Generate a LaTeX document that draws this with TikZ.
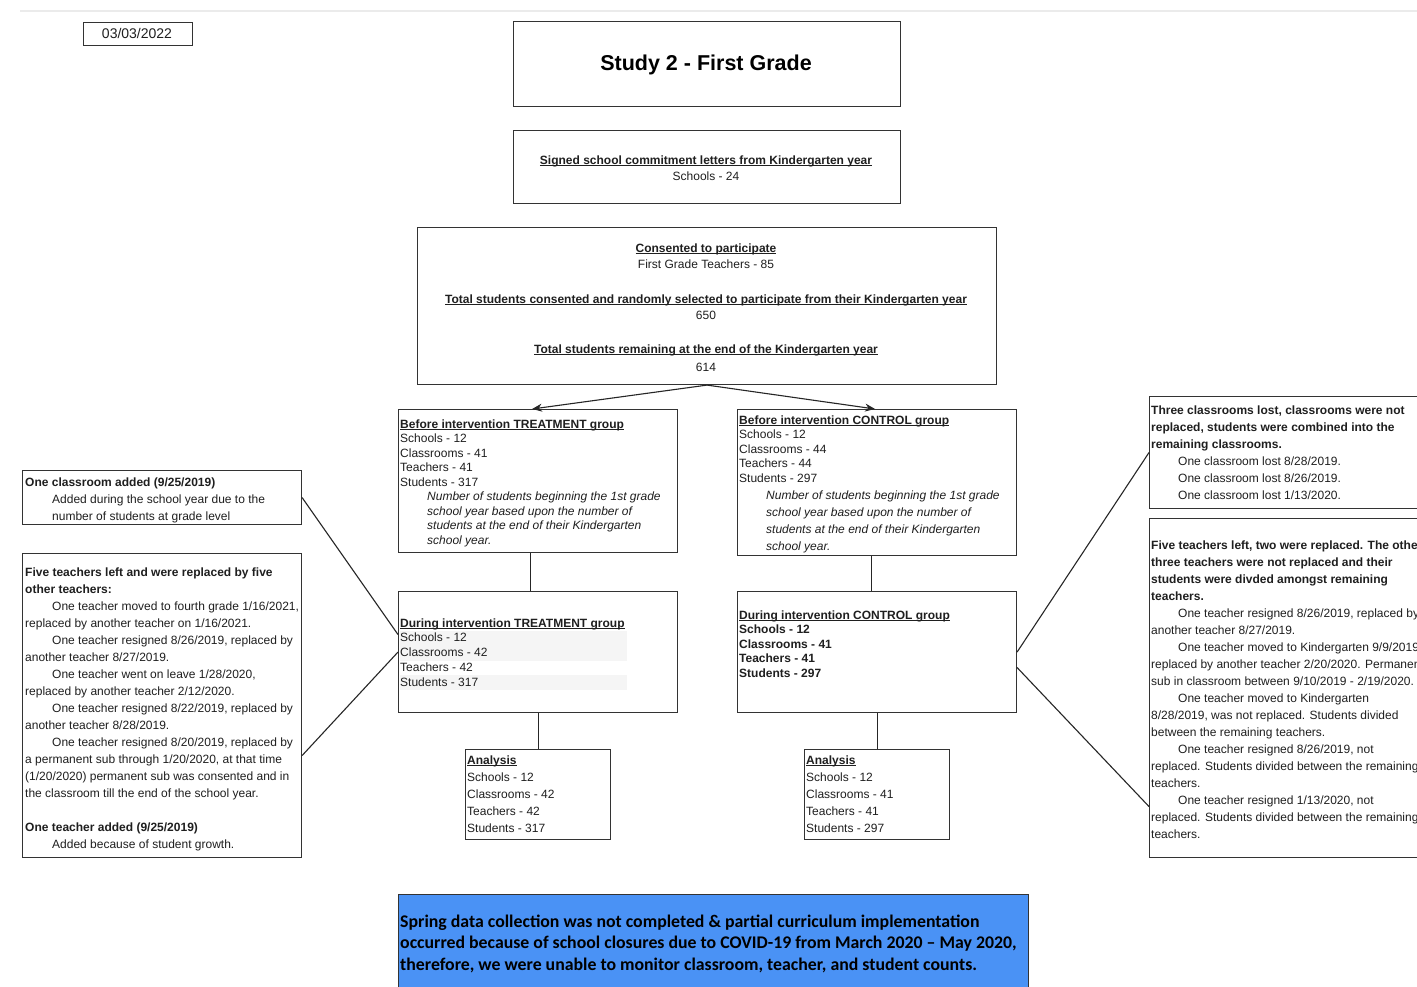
\documentclass[tikz,border=0pt]{standalone}
\usepackage{fontspec}
\setmainfont{Liberation Sans}
\newfontfamily\carl{Carlito}
\usetikzlibrary{arrows.meta,calc}
\newcommand{\ulx}[1]{\underline{\smash{#1}}}
\newcommand{\ind}{\hspace*{27pt}}
\newcommand{\fl}{\rule{0pt}{10pt}}
\definecolor{bluebox}{RGB}{74,146,245}
\begin{document}
\begin{tikzpicture}[x=1pt,y=-1pt,
  box/.style={draw=black!80, line width=1.1pt, inner sep=0, anchor=north west},
  txt/.style={inner sep=0, anchor=north west, align=left, text=black!88, font=\fontsize{12}{14.5}\selectfont},
  txtb/.style={txt, font=\fontsize{12}{17}\selectfont},
  ctxt/.style={inner sep=0, anchor=north, align=center, text=black!88, font=\fontsize{12}{16}\selectfont},
  conn/.style={draw=black!85, line width=1.1pt},
  arr/.style={conn, -{Stealth[length=10pt,width=8pt]}}]
\useasboundingbox (0,0) rectangle (1417,987);
\begin{scope}
\clip (0,0) rectangle (1417,987);
\fill[white] (0,0) rectangle (1417,987);
\draw[black!8, line width=2pt] (20,11) -- (1417,11);

% boxes
\node[box, minimum width=109pt, minimum height=23pt] (date) at (83,22) {};
\node[box, minimum width=387pt, minimum height=85pt] (title) at (513,21) {};
\node[box, minimum width=387pt, minimum height=73pt] (signed) at (513,130) {};
\node[box, minimum width=579pt, minimum height=157pt] (consent) at (417,227) {};
\node[box, minimum width=279pt, minimum height=143pt] (bt) at (398,409) {};
\node[box, minimum width=279pt, minimum height=146pt] (bc) at (737,409) {};
\node[box, minimum width=279pt, minimum height=121pt] (dt) at (398,591) {};
\node[box, minimum width=279pt, minimum height=121pt] (dc) at (737,591) {};
\node[box, minimum width=145pt, minimum height=90pt] (at) at (465,749) {};
\node[box, minimum width=145pt, minimum height=90pt] (ac) at (804,749) {};
\node[box, minimum width=279pt, minimum height=54pt] (lb1) at (22,470) {};
\node[box, minimum width=279pt, minimum height=304pt] (lb2) at (22,553) {};
\node[box, minimum width=290pt, minimum height=112pt] (rb1) at (1149,396) {};
\node[box, minimum width=290pt, minimum height=339pt] (rb2) at (1149,518) {};
\node[box, fill=bluebox, minimum width=630pt, minimum height=110pt] (blue) at (398,894) {};

% highlight bands
\fill[black!4] (400,631) rectangle (627,661);
\fill[black!4] (400,675) rectangle (627,690);

% texts
\node[inner sep=0, anchor=base, text=black!88, font=\fontsize{14}{16}\selectfont] (dateT) at (137,38.5) {03/03/2022};
\node[inner sep=0, anchor=base, text=black, font=\bfseries\fontsize{21.5}{24}\selectfont] (titleT) at (706,70.5) {Study 2 - First Grade};
\node[ctxt] (signedT) at (706,154) {\fl\textbf{\ulx{Signed school commitment letters from Kindergarten year}}\\Schools - 24};
\node[ctxt] (c1) at (706,242) {\fl\textbf{\ulx{Consented to participate}}\\First Grade Teachers - 85};
\node[ctxt] (c2) at (706,293) {\fl\textbf{\ulx{Total students consented and randomly selected to participate from their Kindergarten year}}\\650};
\node[ctxt, font=\fontsize{12}{18}\selectfont] (c3) at (706,343) {\fl\textbf{\ulx{Total students remaining at the end of the Kindergarten year}}\\614};

\node[txt] (btT) at (400,418) {\fl\textbf{\ulx{Before intervention TREATMENT group}}\\Schools - 12\\Classrooms - 41\\Teachers - 41\\Students - 317\\
\ind\textit{Number of students beginning the 1st grade}\\
\ind\textit{school year based upon the number of}\\
\ind\textit{students at the end of their Kindergarten}\\
\ind\textit{school year.}};

\node[txt] (bcT) at (739,414) {\fl\textbf{\ulx{Before intervention CONTROL group}}\\Schools - 12\\Classrooms - 44\\Teachers - 44\\Students - 297\\[2.5pt]
\ind\textit{Number of students beginning the 1st grade}\\[2.5pt]
\ind\textit{school year based upon the number of}\\[2.5pt]
\ind\textit{students at the end of their Kindergarten}\\[2.5pt]
\ind\textit{school year.}};

\node[txt, font=\fontsize{12}{14.75}\selectfont] (dtT) at (400,617) {\fl\textbf{\ulx{During intervention TREATMENT group}}\\Schools - 12\\Classrooms - 42\\Teachers - 42\\Students - 317};
\node[txt, font=\bfseries\fontsize{12}{14.5}\selectfont] (dcT) at (739,609) {\fl\ulx{During intervention CONTROL group}\\Schools - 12\\Classrooms - 41\\Teachers - 41\\Students - 297};

\node[txtb] (atT) at (467,754) {\fl\textbf{\ulx{Analysis}}\\Schools - 12\\Classrooms - 42\\Teachers - 42\\Students - 317};
\node[txtb] (acT) at (806,754) {\fl\textbf{\ulx{Analysis}}\\Schools - 12\\Classrooms - 41\\Teachers - 41\\Students - 297};

\node[txtb] (lb1T) at (25,476) {\fl\textbf{One classroom added (9/25/2019)}\\
\ind Added during the school year due to the\\
\ind number of students at grade level};

\node[txtb] (lb2T) at (25,566) {\fl\textbf{Five teachers left and were replaced by five}\\
\textbf{other teachers:}\\
\ind One teacher moved to fourth grade 1/16/2021,\\
replaced by another teacher on 1/16/2021.\\
\ind One teacher resigned 8/26/2019, replaced by\\
another teacher 8/27/2019.\\
\ind One teacher went on leave 1/28/2020,\\
replaced by another teacher 2/12/2020.\\
\ind One teacher resigned 8/22/2019, replaced by\\
another teacher 8/28/2019.\\
\ind One teacher resigned 8/20/2019, replaced by\\
a permanent sub through 1/20/2020, at that time\\
(1/20/2020) permanent sub was consented and in\\
the classroom till the end of the school year.\\[17pt]
\textbf{One teacher added (9/25/2019)}\\
\ind Added because of student growth.};

\node[txtb] (rb1T) at (1151,404) {\fl\textbf{Three classrooms lost, classrooms were not}\\
\textbf{replaced, students were combined into the}\\
\textbf{remaining classrooms.}\\
\ind One classroom lost 8/28/2019.\\
\ind One classroom lost 8/26/2019.\\
\ind One classroom lost 1/13/2020.};

\node[txtb] (rb2T) at (1151,539) {\fl\textbf{Five teachers left, two were replaced. The other}\\
\textbf{three teachers were not replaced and their}\\
\textbf{students were divded amongst remaining}\\
\textbf{teachers.}\\
\ind One teacher resigned 8/26/2019, replaced by\\
another teacher 8/27/2019.\\
\ind One teacher moved to Kindergarten 9/9/2019,\\
replaced by another teacher 2/20/2020. Permanent\\
sub in classroom between 9/10/2019 - 2/19/2020.\\
\ind One teacher moved to Kindergarten\\
8/28/2019, was not replaced. Students divided\\
between the remaining teachers.\\
\ind One teacher resigned 8/26/2019, not\\
replaced. Students divided between the remaining\\
teachers.\\
\ind One teacher resigned 1/13/2020, not\\
replaced. Students divided between the remaining\\
teachers.};

\node[inner sep=0, anchor=north west, align=left, text=black, font=\carl\bfseries\fontsize{17.8}{21.5}\selectfont] (blueT) at (400,914) {\rule{0pt}{13pt}Spring data collection was not completed \& partial curriculum implementation\\
occurred because of school closures due to COVID-19 from March 2020 – May 2020,\\
therefore, we were unable to monitor classroom, teacher, and student counts.};

% connectors
\draw[arr] (consent.south) -- ([xshift=-6pt]bt.north);
\draw[arr] (consent.south) -- ([xshift=-2pt]bc.north);
\draw[conn] ([xshift=-8pt]bt.south) -- ([xshift=-8pt]dt.north);
\draw[conn] ([xshift=-5.5pt]bc.south) -- ([xshift=-5.5pt]dc.north);
\draw[conn] (dt.south) -- (at.north);
\draw[conn] (dc.south) -- (ac.north);
\draw[conn] (lb1.east) -- ([yshift=17.5pt]dt.west);
\draw[conn] ([yshift=-50pt]lb2.east) -- (dt.west);
\draw[conn] (dc.east) -- (rb1.west);
\draw[conn] ([yshift=-15.5pt]dc.east) -- ([yshift=-118.5pt]rb2.west);
\end{scope}
\end{tikzpicture}
\end{document}
